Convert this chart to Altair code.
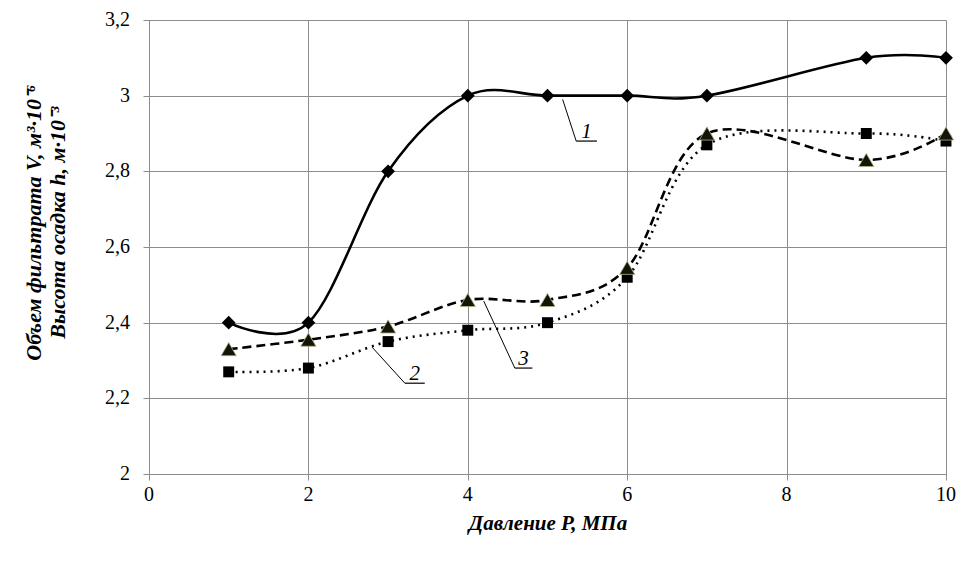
import altair as alt
import pandas as pd

pressure = [1, 2, 3, 4, 5, 6, 7, 9, 10]
series1 = [2.40, 2.40, 2.80, 3.00, 3.00, 3.00, 3.00, 3.10, 3.10]
series2 = [2.27, 2.28, 2.35, 2.38, 2.40, 2.52, 2.87, 2.90, 2.88]
series3 = [2.33, 2.355, 2.39, 2.46, 2.46, 2.545, 2.90, 2.83, 2.90]

x_ticks = [0, 2, 4, 6, 8, 10]
x_labels = ["0", "2", "4", "6", "8", "10"]
y_ticks = [2.0, 2.2, 2.4, 2.6, 2.8, 3.0, 3.2]
y_labels = ["2", "2,2", "2,4", "2,6", "2,8", "3", "3,2"]

# annotation leaders (data coordinates)
label_text = ["1", "2", "3"]
leader_x1 = [5.19, 2.80, 4.20]
leader_y1 = [2.99, 2.335, 2.457]
leader_x2 = [5.36, 3.21, 4.59]
leader_y2 = [2.88, 2.24, 2.28]
under_x2 = [5.62, 3.46, 4.81]

ann = pd.DataFrame({
    "t": label_text,
    "x1": leader_x1, "y1": leader_y1,
    "x2": leader_x2, "y2": leader_y2,
    "ux": under_x2,
})
ann["tx"] = (ann["x2"] + ann["ux"]) / 2

FONT = "Liberation Serif"
xs = alt.Scale(domain=[0, 10], nice=False)
ys = alt.Scale(domain=[2, 3.2], nice=False)

common = dict(
    grid=True, gridColor="#8c8c8c", gridWidth=1,
    domainColor="#8c8c8c", tickColor="#8c8c8c", tickSize=6,
    labels=False,
    titleFont=FONT, titleFontStyle="italic", titleFontWeight="bold", titleColor="black",
)

x_axis = alt.Axis(
    values=x_ticks, title="Давление P, МПа", titleFontSize=21,
    titleY=49, titleBaseline="middle", **common)
y_axis = alt.Axis(
    values=y_ticks,
    title=["Объем фильтрата V, м³·10⁻⁶", "Высота осадка h, м·10⁻³"],
    titleAngle=-90, titleX=-104, titleY=202, titleAlign="center", titleFontSize=22,
    titleBaseline="bottom", titleLineHeight=24, **common)


def series_df(vals):
    return pd.DataFrame({"P": pressure, "V": vals})


layers = []
# first layer carries the axes
layers.append(alt.Chart(series_df(series1)).mark_line(
    interpolate="cardinal", color="black", strokeWidth=2.6).encode(
    x=alt.X("P:Q", scale=xs, axis=x_axis), y=alt.Y("V:Q", scale=ys, axis=y_axis)))
layers.append(alt.Chart(series_df(series2)).mark_line(
    interpolate="cardinal", color="black", strokeWidth=2.6, strokeDash=[2, 5]).encode(
    x="P:Q", y="V:Q"))
layers.append(alt.Chart(series_df(series3)).mark_line(
    interpolate="cardinal", color="black", strokeWidth=2.6, strokeDash=[9, 5]).encode(
    x="P:Q", y="V:Q"))

layers.append(alt.Chart(series_df(series1)).mark_point(
    shape="diamond", size=190, filled=True, color="black", opacity=1).encode(
    x="P:Q", y="V:Q"))
layers.append(alt.Chart(series_df(series2)).mark_point(
    shape="square", size=120, filled=True, color="black", opacity=1).encode(
    x="P:Q", y="V:Q"))
layers.append(alt.Chart(series_df(series3)).mark_point(
    shape="triangle-up", size=230, filled=True, fill="#141408", stroke="#b4b488",
    strokeWidth=0.8, opacity=1).encode(
    x="P:Q", y="V:Q"))

layers.append(alt.Chart(ann).mark_rule(color="black", strokeWidth=1).encode(
    x="x1:Q", y="y1:Q", x2="x2:Q", y2="y2:Q"))
layers.append(alt.Chart(ann).mark_rule(color="black", strokeWidth=1.2).encode(
    x="x2:Q", x2="ux:Q", y="y2:Q"))
layers.append(alt.Chart(ann).mark_text(
    font=FONT, fontSize=21, fontStyle="italic", baseline="alphabetic", dy=-3, color="black").encode(
    x="tx:Q", y="y2:Q", text="t:N"))

# tick labels (serif) placed through the scales
xl = pd.DataFrame({"v": x_ticks, "t": x_labels, "base": [2.0] * len(x_ticks)})
yl = pd.DataFrame({"v": y_ticks, "t": y_labels, "base": [0.0] * len(y_ticks)})
layers.append(alt.Chart(xl).mark_text(
    font=FONT, fontSize=20, baseline="top", align="center", dy=11, color="black").encode(
    x="v:Q", y="base:Q", text="t:N"))
layers.append(alt.Chart(yl).mark_text(
    font=FONT, fontSize=20, baseline="middle", align="right", dx=-19, color="black").encode(
    x="base:Q", y="v:Q", text="t:N"))

chart = alt.layer(*layers).properties(
    width=797, height=454,
    autosize=alt.AutoSizeParams(type="none"),
    padding={"left": 141, "top": 12, "right": 19, "bottom": 80},
).configure_view(stroke=None)

chart.save("out.html", embed_options={"renderer": "svg", "actions": False})
